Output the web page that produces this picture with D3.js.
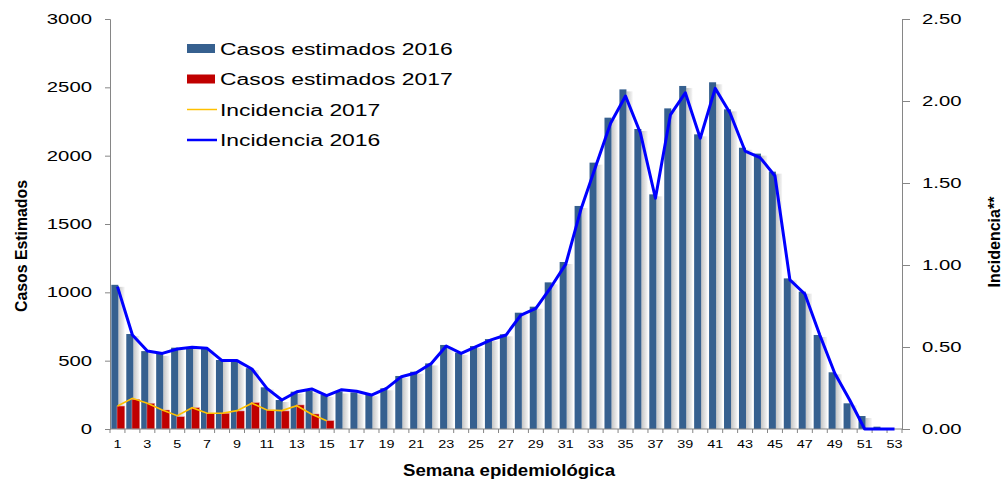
<!DOCTYPE html>
<html>
<head>
<meta charset="utf-8">
<script src="https://cdn.jsdelivr.net/npm/d3@7"></script>
<style>
  body { margin: 0; background: #fff; }
  text { font-family: "Liberation Sans", Arial, sans-serif; fill: #000; }
</style>
</head>
<body>
<div id="chart"></div>
<script>
// semanas epidemiologicas
var weeks = [1,2,3,4,5,6,7,8,9,10,11,12,13,14,15,16,17,18,19,20,21,22,23,24,25,26,
  27,28,29,30,31,32,33,34,35,36,37,38,39,40,41,42,43,44,45,46,47,48,49,50,51,52,53];

var cases2016 = [1055,695,570,550,595,600,590,505,495,445,305,212,273,280,250,275,268,255,298,388,
  419,480,615,558,607,658,693,851,895,1073,1222,1632,1949,2278,2485,2195,1717,2346,2510,2156,
  2537,2339,2058,2015,1883,1102,1005,688,415,188,95,17,0];

var cases2017 = [168,217,188,139,90,156,115,115,132,193,139,132,176,110,61];

var inc2016 = [0.868,0.573,0.476,0.461,0.488,0.498,0.492,0.417,0.417,0.366,0.248,0.177,0.227,0.244,
  0.203,0.240,0.230,0.207,0.248,0.319,0.343,0.400,0.506,0.461,0.502,0.543,0.573,0.695,0.736,0.864,
  1.005,1.335,1.600,1.864,2.030,1.803,1.407,1.915,2.050,1.773,2.077,1.925,1.695,1.655,1.543,0.909,
  0.823,0.573,0.340,0.177,0,0,0];

var inc2017 = [0.140,0.187,0.157,0.116,0.081,0.130,0.096,0.096,0.112,0.157,0.116,0.112,0.142,0.090,0.050];

var leftTicks = [0,500,1000,1500,2000,2500,3000];
var rightTicks = [0,0.5,1,1.5,2,2.5];

var legendItems = [
  {name: "Casos estimados 2016", type: "bar", color: "#36608F"},
  {name: "Casos estimados 2017", type: "bar", color: "#C00000"},
  {name: "Incidencia 2017", type: "line", color: "#FFC000"},
  {name: "Incidencia 2016", type: "line", color: "#0000FF"}
];

var svgWidth = 1004, svgHeight = 479;
var plotLeft = 110, plotRight = 902, plotTop = 19, plotBottom = 429;

var svg = d3.select("#chart").append("svg")
  .attr("width", svgWidth)
  .attr("height", svgHeight);

var defs = svg.append("defs");
var grad = defs.append("linearGradient").attr("id", "shade");
grad.append("stop").attr("offset", "0%").attr("stop-color", "#c4c4c4");
grad.append("stop").attr("offset", "100%").attr("stop-color", "#f6f6f6");

// stretch text horizontally like the original (it looks widened)
function stretch(sel, k) {
  sel.each(function() {
    var w = this.getComputedTextLength();
    d3.select(this).attr("textLength", w * k).attr("lengthAdjust", "spacingAndGlyphs");
  });
}

var x = d3.scaleBand().domain(weeks).range([plotLeft, plotRight]).padding(0);
var bw = x.bandwidth();
var yL = d3.scaleLinear().domain([0, 3000]).range([plotBottom, plotTop]);
var yR = d3.scaleLinear().domain([0, 2.5]).range([plotBottom, plotTop]);

// shadow behind 2016 bars
svg.append("g").selectAll("rect")
  .data(cases2016)
  .enter().append("rect")
  .attr("x", (d, i) => x(weeks[i]) + bw * 0.09 + bw * 0.47)
  .attr("width", bw * 0.42)
  .attr("y", d => Math.min(yL(d) + 2, plotBottom))
  .attr("height", d => Math.max(plotBottom - yL(d) - 2, 0))
  .attr("fill", "url(#shade)");

// 2016 bars
svg.append("g").selectAll("rect")
  .data(cases2016)
  .enter().append("rect")
  .attr("x", (d, i) => x(weeks[i]) + bw * 0.09)
  .attr("width", bw * 0.47)
  .attr("y", d => yL(d))
  .attr("height", d => plotBottom - yL(d))
  .attr("fill", "#36608F");

// 2017 bars
svg.append("g").selectAll("rect")
  .data(cases2017)
  .enter().append("rect")
  .attr("x", (d, i) => x(weeks[i]) + bw * 0.47)
  .attr("width", bw * 0.52)
  .attr("y", d => yL(d))
  .attr("height", d => plotBottom - yL(d))
  .attr("fill", "#C00000")
  .attr("stroke", "#e8a0a0")
  .attr("stroke-width", 0.5);

// axes
var axisColor = "#868686";

var gL = svg.append("g")
  .attr("transform", `translate(${plotLeft},0)`)
  .call(d3.axisLeft(yL).tickValues(leftTicks).tickSize(5).tickPadding(13).tickFormat(d3.format("d")));
gL.select(".domain").attr("stroke", axisColor);
gL.selectAll(".tick line").attr("stroke", axisColor);
gL.selectAll("text").attr("font-size", 14).attr("font-family", "Liberation Sans, Arial, sans-serif").call(stretch, 1.45);

var gR = svg.append("g")
  .attr("transform", `translate(${plotRight},0)`)
  .call(d3.axisRight(yR).tickValues(rightTicks).tickSize(8).tickPadding(12).tickFormat(d3.format(".2f")));
gR.select(".domain").attr("stroke", axisColor);
gR.selectAll(".tick line").attr("stroke", axisColor);
gR.selectAll("text").attr("font-size", 14).attr("font-family", "Liberation Sans, Arial, sans-serif").call(stretch, 1.45);

// x axis: line with ticks at band edges
var gX = svg.append("g");
gX.append("line")
  .attr("x1", plotLeft).attr("x2", plotRight)
  .attr("y1", plotBottom).attr("y2", plotBottom)
  .attr("stroke", axisColor);
gX.selectAll(".xt")
  .data(weeks.concat([54]))
  .enter().append("line")
  .attr("x1", (d, i) => plotLeft + i * bw).attr("x2", (d, i) => plotLeft + i * bw)
  .attr("y1", plotBottom).attr("y2", plotBottom + 4)
  .attr("stroke", axisColor);
gX.selectAll("text")
  .data(weeks.filter(d => d % 2 === 1))
  .enter().append("text")
  .attr("x", d => x(d) + bw / 2)
  .attr("y", 447.5)
  .attr("text-anchor", "middle")
  .attr("font-size", 11.5)
  .text(d => d)
  .call(stretch, 1.25);

// incidence lines
var incLine = d3.line()
  .x((d, i) => x(weeks[i]) + bw / 2)
  .y(d => yR(d));

svg.append("path")
  .datum(inc2017)
  .attr("d", incLine)
  .attr("fill", "none")
  .attr("stroke", "#FFC000")
  .attr("stroke-width", 1.6);

svg.append("path")
  .datum(inc2016)
  .attr("d", incLine)
  .attr("fill", "none")
  .attr("stroke", "#0000FF")
  .attr("stroke-width", 3)
  .attr("stroke-linejoin", "round");

// axis titles
svg.append("text")
  .attr("transform", "translate(26.5,246) rotate(-90)")
  .attr("text-anchor", "middle")
  .attr("font-size", 17)
  .attr("font-weight", "bold")
  .attr("textLength", 132)
  .attr("lengthAdjust", "spacingAndGlyphs")
  .text("Casos Estimados");

svg.append("text")
  .attr("transform", "translate(999.5,242) rotate(-90)")
  .attr("text-anchor", "middle")
  .attr("font-size", 17)
  .attr("font-weight", "bold")
  .attr("textLength", 91)
  .attr("lengthAdjust", "spacingAndGlyphs")
  .text("Incidencia**");

svg.append("text")
  .attr("x", 509)
  .attr("y", 476)
  .attr("text-anchor", "middle")
  .attr("font-size", 17)
  .attr("font-weight", "bold")
  .attr("textLength", 212)
  .attr("lengthAdjust", "spacingAndGlyphs")
  .text("Semana epidemiológica");

// legend
var legend = svg.append("g").attr("transform", "translate(187,0)");
var rows = legend.selectAll("g")
  .data(legendItems)
  .enter().append("g")
  .attr("transform", (d, i) => `translate(0,${48.5 + i * 30.5})`);

rows.filter(d => d.type === "bar").append("rect")
  .attr("x", 0).attr("y", -4.5)
  .attr("width", 28).attr("height", 9)
  .attr("fill", d => d.color);

rows.filter(d => d.type === "line").append("line")
  .attr("x1", 0).attr("x2", 30)
  .attr("y1", 0).attr("y2", 0)
  .attr("stroke", d => d.color)
  .attr("stroke-width", d => d.color === "#0000FF" ? 2.5 : 1.5);

rows.append("text")
  .attr("x", 33)
  .attr("y", 6)
  .attr("font-size", 16)
  .text(d => d.name)
  .call(stretch, 1.43);
</script>
</body>
</html>
